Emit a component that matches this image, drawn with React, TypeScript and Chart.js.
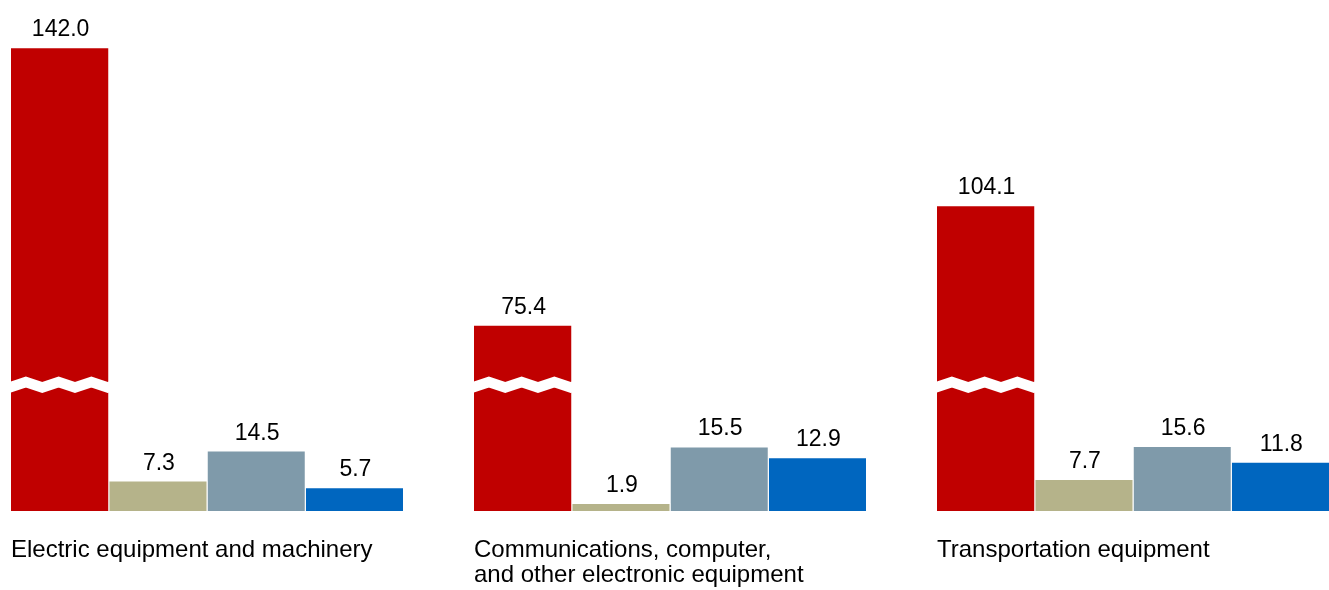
import React, { useEffect, useRef } from "react";
import { Chart, registerables } from "chart.js";

Chart.register(...registerables);

// ---- data ----
const categories: (string | string[])[] = [
  "Electric equipment and machinery",
  ["Communications, computer,", "and other electronic equipment"],
  "Transportation equipment",
];
const seriesRed = [142.0, 75.4, 104.1]; // drawn with a broken (cut) axis
const seriesKhaki = [7.3, 1.9, 7.7];
const seriesSlate = [14.5, 15.5, 15.6];
const seriesBlue = [5.7, 12.9, 11.8];
const axisCut = 30.7; // amount removed from the broken red bars
const breakAt = 30.3; // value (on the drawn scale) where the break mark sits
const yMax = 120;

const FONT = '"Liberation Sans", Arial, Helvetica, sans-serif';

const breakMarks = {
  id: "breakMarks",
  afterDatasetsDraw(chart: any) {
    const ctx = chart.ctx;
    const meta = chart.getDatasetMeta(0);
    const y0 = chart.scales.y.getPixelForValue(breakAt);
    ctx.save();
    ctx.strokeStyle = "#ffffff";
    ctx.lineWidth = 10.5;
    ctx.lineJoin = "miter";
    ctx.lineCap = "butt";
    meta.data.forEach((el: any) => {
      const left = el.x - el.width / 2;
      const step = el.width / 6;
      ctx.beginPath();
      for (let k = -1; k <= 7; k++) {
        const x = left - 1.5 + k * step;
        const y = y0 + (k % 2 === 0 ? 2.7 : -2.7);
        if (k === -1) ctx.moveTo(x, y);
        else ctx.lineTo(x, y);
      }
      ctx.stroke();
    });
    ctx.restore();
  },
};

const valueLabels = {
  id: "valueLabels",
  afterDatasetsDraw(chart: any) {
    const ctx = chart.ctx;
    ctx.save();
    ctx.font = `23px ${FONT}`;
    ctx.fillStyle = "#000000";
    ctx.textAlign = "center";
    ctx.textBaseline = "alphabetic";
    chart.data.datasets.forEach((ds: any, i: number) => {
      const meta = chart.getDatasetMeta(i);
      meta.data.forEach((el: any, j: number) => {
        ctx.fillText(ds.realValues[j].toFixed(1), el.x + 0.5, el.y - 11);
      });
    });
    ctx.restore();
  },
};

export default function App() {
  const ref = useRef<HTMLCanvasElement>(null);

  useEffect(() => {
    if (!ref.current) return;
    const common = {
      barPercentage: 1,
      categoryPercentage: 0.8488,
      borderWidth: { top: 1, right: 1, left: 0, bottom: 0 },
      borderColor: "rgba(255,255,255,0.7)",
      borderSkipped: false,
    };
    const chart = new Chart(ref.current, {
      type: "bar",
      data: {
        labels: categories,
        datasets: [
          {
            ...common,
            label: "Red",
            data: seriesRed.map((v) => v - axisCut),
            realValues: seriesRed,
            backgroundColor: "#C00000",
          } as any,
          {
            ...common,
            label: "Khaki",
            data: seriesKhaki,
            realValues: seriesKhaki,
            backgroundColor: "#B5B38A",
          } as any,
          {
            ...common,
            label: "Slate",
            data: seriesSlate,
            realValues: seriesSlate,
            backgroundColor: "#7F9AAA",
          } as any,
          {
            ...common,
            label: "Blue",
            data: seriesBlue,
            realValues: seriesBlue,
            backgroundColor: "#0066BF",
          } as any,
        ],
      },
      options: {
        responsive: false,
        animation: false,
        devicePixelRatio: 1,
        layout: { padding: { top: 11, left: 0, right: 0, bottom: 0 } },
        plugins: {
          legend: { display: false },
          tooltip: { enabled: false },
          title: { display: false },
        },
        scales: {
          x: {
            offset: true,
            grid: { display: false, drawTicks: false },
            border: { display: false },
            afterFit: (scale: any) => {
              scale.height = 79;
              scale.paddingLeft = 0;
              scale.paddingRight = 0;
            },
            ticks: {
              align: "start",
              labelOffset: -196.5,
              padding: 27,
              autoSkip: false,
              maxRotation: 0,
              minRotation: 0,
              color: "#000000",
              font: { family: FONT, size: 24, lineHeight: 1.04 },
            },
          },
          y: {
            display: false,
            min: 0,
            max: yMax,
          },
        },
      } as any,
      plugins: [breakMarks, valueLabels],
    });
    return () => chart.destroy();
  }, []);

  return (
    <div
      style={{
        position: "fixed",
        left: 0,
        top: 0,
        width: 1329,
        height: 590,
        overflow: "hidden",
        background: "#ffffff",
      }}
    >
      <canvas
        ref={ref}
        width={1389}
        height={590}
        style={{ position: "absolute", left: -24, top: 0, width: 1389, height: 590 }}
      />
    </div>
  );
}
